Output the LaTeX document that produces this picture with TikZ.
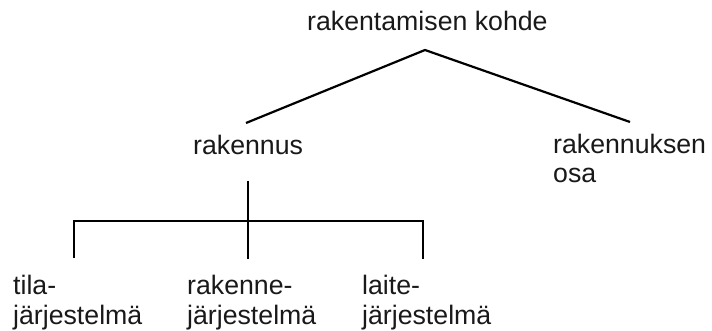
\documentclass[tikz,border=0pt]{standalone}
\usepackage{fontspec}
\setmainfont{Liberation Sans}
\begin{document}
\begin{tikzpicture}[x=1pt,y=-1pt,
  lbl/.style={anchor=base west,inner sep=0pt,align=left,
    font=\fontsize{26.7pt}{29.5pt}\selectfont,text=black!90},
  link/.style={draw=black,line width=2.2pt}]
\useasboundingbox[fill=white] (0,0) rectangle (712,331);
% labels (two-line labels are placed by the baseline of their last line)
\node[lbl] (kohde)   at (307,31)  {rakentamisen kohde};
\node[lbl] (rak)     at (193,155) {rakennus};
\node[lbl] (osa)     at (553,183) {rakennuksen\\osa};
\node[lbl] (tila)    at (13,324)  {tila-\\järjestelmä};
\node[lbl] (rakenne) at (187,324) {rakenne-\\järjestelmä};
\node[lbl] (laite)   at (362,324) {laite-\\järjestelmä};
% end points of the connectors
\coordinate (apex)    at (425,50);
\coordinate (toRak)   at (246,123);
\coordinate (toOsa)   at (630,122);
\coordinate (stemTop) at (248,181);
\coordinate (stemBot) at (248,259);
\coordinate (barL)    at (74,221);
\coordinate (barR)    at (423,221);
\coordinate (legL)    at (74,258);
\coordinate (legR)    at (423,259);
% top split
\draw[link] (toRak) -- (apex) -- (toOsa);
% comb below rakennus
\draw[link] (stemTop) -- (stemBot);
\draw[link] (legL) -- (barL) -- (barR) -- (legR);
\end{tikzpicture}
\end{document}
